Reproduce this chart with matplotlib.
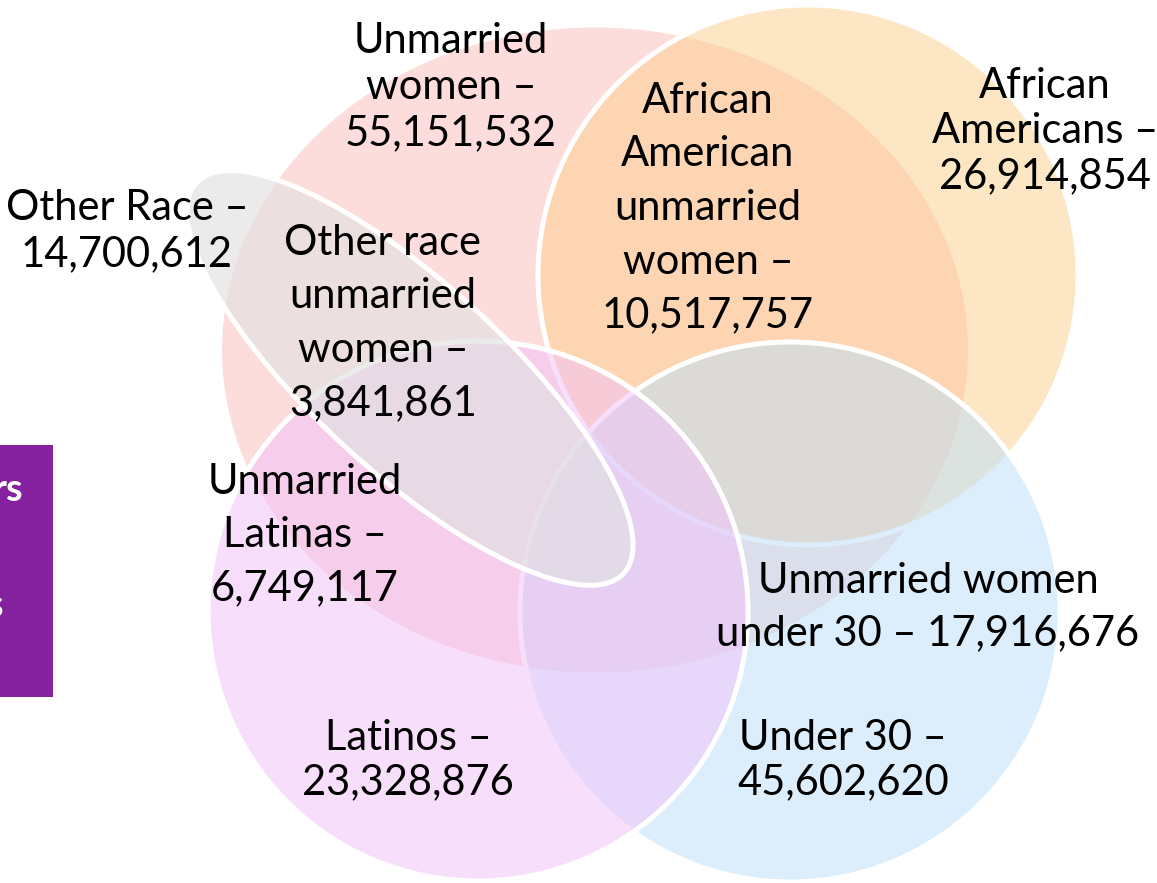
import matplotlib
matplotlib.use("Agg")
import matplotlib.pyplot as plt
from matplotlib.patches import Circle, Ellipse, Rectangle

# ---- data ----
group_labels = ["Unmarried\nwomen –", "African\nAmericans –", "African\nAmerican\nunmarried\nwomen –",
                "Other Race –", "Other race\nunmarried\nwomen –", "Unmarried\nLatinas –",
                "Unmarried women\nunder 30 –", "Latinos –", "Under 30 –"]
group_counts = [55151532, 26914854, 10517757, 14700612, 3841861, 6749117, 17916676, 23328876, 45602620]
label_joiners = ["\n", "\n", "\n", "\n", "\n", "\n", " ", "\n", "\n"]

# ---- layout (pixel space) ----
label_pos = [(451, 87), (1045, 131), (708, 208), (127, 231), (383, 323), (305, 535),
             (928, 607), (408, 760), (843, 760)]
label_spacing = [1.25, 1.23, 1.50, 1.25, 1.49, 1.50, 1.46, 1.22, 1.22]

W, H = 1157, 883
fig = plt.figure(figsize=(W / 100, H / 100), dpi=100)
ax = fig.add_axes([0, 0, 1, 1])
ax.set_xlim(0, W)
ax.set_ylim(H, 0)
ax.axis("off")

def rgba(r, g, b, a):
    return (r / 255, g / 255, b / 255, a)

lw = 3.6
# Unmarried women (pink)
ax.add_patch(Ellipse((595, 350), 746, 645, facecolor=rgba(253, 221, 220, 1), edgecolor="none", zorder=1))
# African Americans (orange)
ax.add_patch(Circle((808, 275), 270, facecolor=rgba(253, 207, 139, 0.5), edgecolor="white", lw=lw, zorder=2))
# Under 30 (blue)
ax.add_patch(Circle((790, 612), 270, facecolor=rgba(190, 223, 249, 0.53), edgecolor="white", lw=lw, zorder=3))
# Latinos (purple)
ax.add_patch(Circle((478, 611), 270, facecolor=rgba(241, 193, 251, 0.5), edgecolor="white", lw=lw, zorder=4))
# Other race (gray ellipse)
ax.add_patch(Ellipse((410, 378), 579, 189, angle=42.4, facecolor=rgba(225, 225, 225, 0.64),
                     edgecolor="white", lw=lw, zorder=5))

# purple side box
ax.add_patch(Rectangle((0, 445), 53, 252, facecolor="#8621A0", edgecolor="none", zorder=6))
ax.text(23, 490, "rs", color="white", fontsize=27, fontweight="bold", family="Lato",
        ha="right", va="center", zorder=7)
ax.text(3, 606, "s", color="white", fontsize=27, fontweight="bold", family="Lato",
        ha="right", va="center", zorder=7)

for lab, cnt, jn, (x, y), ls in zip(group_labels, group_counts, label_joiners, label_pos, label_spacing):
    ax.text(x, y, f"{lab}{jn}{cnt:,}", ha="center", va="center", multialignment="center",
            fontsize=30, family="Lato", color="black", linespacing=ls, zorder=10)

fig.savefig("out.png", dpi=100)
